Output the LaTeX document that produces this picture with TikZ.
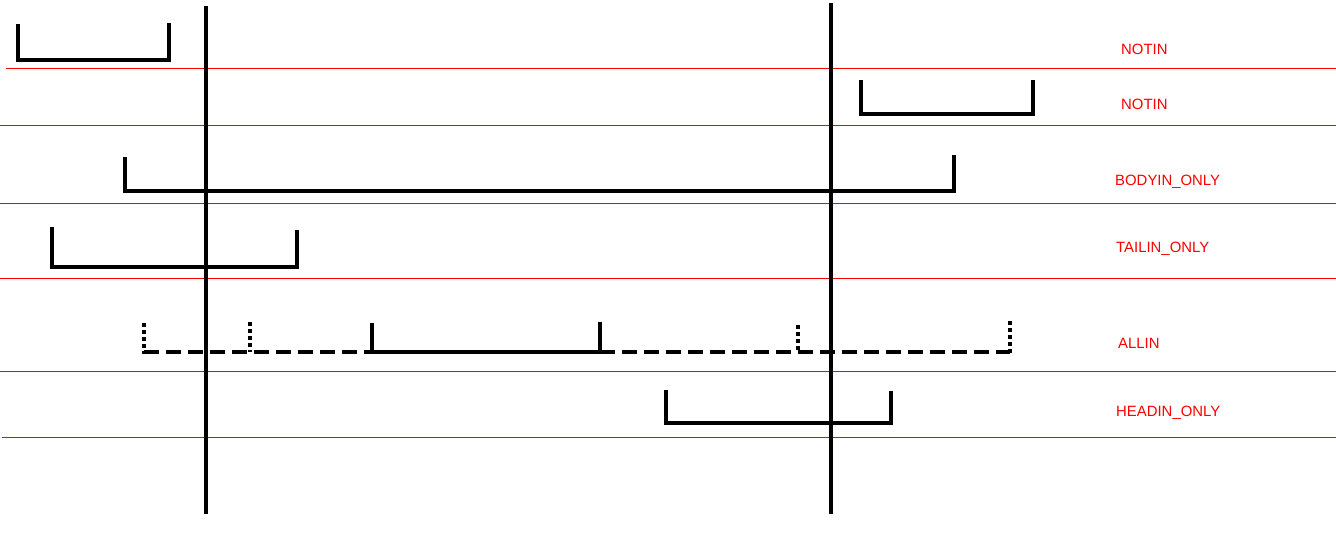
\documentclass[tikz,border=0pt]{standalone}
\usepackage{fontspec}
\setmainfont{Liberation Sans}
\begin{document}
\begin{tikzpicture}[x=1pt,y=-1pt,
  thick line/.style={line width=4.3pt,black},
  sep line/.style={line width=1pt,red},
  lbl/.style={anchor=west,inner sep=0pt,text=red,font=\fontsize{14.9}{17}\selectfont},
  dashseg/.style={thick line,dash pattern=on 15pt off 7pt},
  dotseg/.style={thick line,dash pattern=on 4pt off 3pt}]
\useasboundingbox (0,0) rectangle (1336,546);
% separator lines
\draw[sep line] (6,68) -- (1336,68);
\draw[sep line] (0,125) -- (1336,125);
\draw[sep line] (0,203) -- (1336,203);
\draw[sep line] (0,278) -- (1336,278);
\draw[sep line] (0,371) -- (1336,371);
\draw[sep line] (2,437) -- (1336,437);
% vertical boundaries
\draw[thick line] (206,6) -- (206,514);
\draw[thick line] (831,3) -- (831,514);
% NOTIN 1
\draw[thick line] (18,24) -- (18,60) -- (169,60) -- (169,23);
% NOTIN 2
\draw[thick line] (861,80) -- (861,114) -- (1033,114) -- (1033,80);
% BODYIN_ONLY
\draw[thick line] (125,157) -- (125,191) -- (954,191) -- (954,155);
% TAILIN_ONLY
\draw[thick line] (52,227) -- (52,267) -- (297,267) -- (297,230);
% ALLIN
\draw[dashseg] (144,352) -- (372,352);
\draw[thick line] (372,352) -- (600,352);
\draw[dashseg] (600,352) -- (1010,352);
\draw[dotseg] (144,323) -- (144,354);
\draw[dotseg] (250,322) -- (250,352);
\draw[thick line] (372,323) -- (372,352);
\draw[thick line] (600,322) -- (600,352);
\draw[dotseg] (798,325) -- (798,352);
\draw[dotseg] (1010,321) -- (1010,354);
% HEADIN_ONLY
\draw[thick line] (666,390) -- (666,423) -- (891,423) -- (891,391);
% labels
\node[lbl] (l1) at (1121,49) {NOTIN};
\node[lbl] (l2) at (1121,104) {NOTIN};
\node[lbl] (l3) at (1115,182) {BODYIN\_ONLY};
\node[lbl] (l4) at (1116,249) {TAILIN\_ONLY};
\node[lbl] (l5) at (1118,343) {ALLIN};
\node[lbl] (l6) at (1116,413) {HEADIN\_ONLY};
\end{tikzpicture}
\end{document}
